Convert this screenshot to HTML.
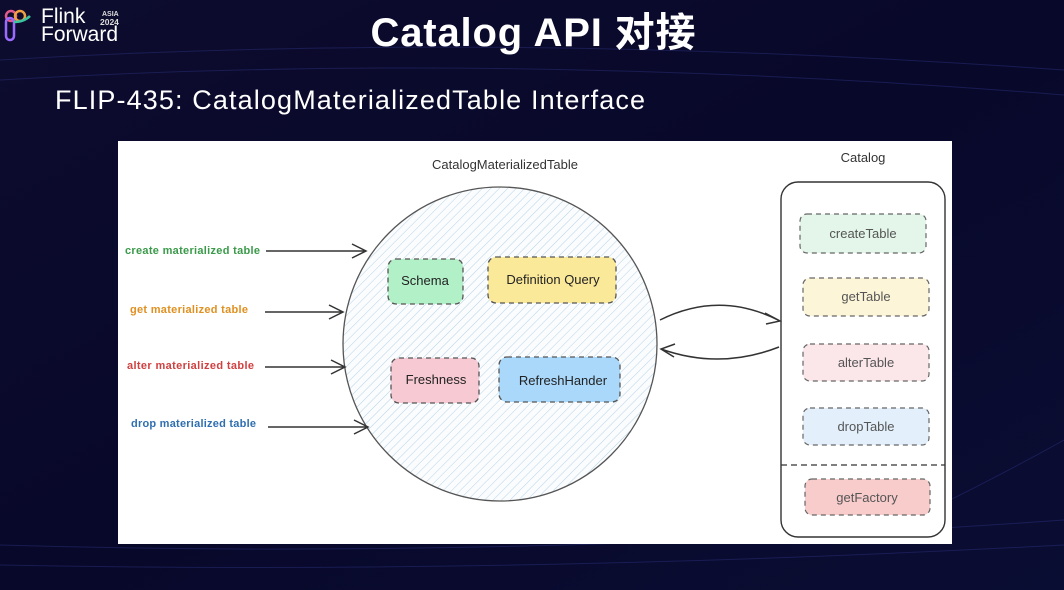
<!DOCTYPE html>
<html><head><meta charset="utf-8"><style>
html,body{margin:0;padding:0;width:1064px;height:590px;overflow:hidden;background:#0a0a26;}
</style></head><body>
<svg width="1064" height="590" viewBox="0 0 1064 590" xmlns="http://www.w3.org/2000/svg" font-family="'Liberation Sans','Noto Sans CJK SC',sans-serif">
<defs>
<linearGradient id="bg" x1="0" y1="0" x2="1" y2="1">
<stop offset="0" stop-color="#0d0c2e"/><stop offset="0.5" stop-color="#08082a"/><stop offset="1" stop-color="#0a0d33"/></linearGradient>
<pattern id="hatch" width="6" height="6" patternUnits="userSpaceOnUse" patternTransform="rotate(45)">
<rect width="6" height="6" fill="#fafcfe"/><line x1="0" y1="0" x2="0" y2="6" stroke="#b9d3e6" stroke-width="1"/></pattern>
</defs>
<rect width="1064" height="590" fill="url(#bg)"/>
<g stroke="#2a2f7a" stroke-width="1" fill="none" opacity="0.5">
<path d="M0 60 Q500 30 1064 70"/><path d="M0 80 Q500 50 1064 95"/><path d="M0 545 Q500 560 1064 520"/><path d="M0 565 Q500 575 1064 545"/><path d="M950 500 Q1010 470 1064 440"/>
</g>
<!-- logo -->
<g fill="none" stroke-width="2.5">
<circle cx="11" cy="16" r="5" stroke="#e25a8a"/><circle cx="20" cy="16" r="5" stroke="#f0a040"/>
<rect x="6" y="18" width="8" height="22" rx="4" stroke="#9b6bff"/><path d="M14 22 Q24 22 30 16" stroke="#3cc4a0"/>
</g>
<text x="41" y="23" fill="#fff" font-size="21">Flink</text>
<text x="41" y="41" fill="#fff" font-size="21">Forward</text>
<text x="102" y="16" fill="#ddd" font-size="7" font-weight="bold">ASIA</text>
<text x="100" y="25" fill="#ddd" font-size="8.5" font-weight="bold">2024</text>
<text x="533" y="46" fill="#fff" font-size="40" font-weight="bold" text-anchor="middle" textLength="325">Catalog API 对接</text>
<text x="55" y="109" fill="#fff" font-size="27" textLength="590">FLIP-435: CatalogMaterializedTable Interface</text>
<!-- panel -->
<rect x="118" y="141" width="834" height="403" fill="#fff"/>
<g font-family="'Liberation Sans',sans-serif">
<text x="505" y="169" font-size="13" fill="#333" text-anchor="middle">CatalogMaterializedTable</text>
<text x="863" y="162" font-size="13" fill="#333" text-anchor="middle">Catalog</text>
<circle cx="500" cy="344" r="157" fill="url(#hatch)" stroke="#555" stroke-width="1.3"/>
<g stroke="#555" stroke-dasharray="5,4" stroke-width="1.3">
<rect x="388" y="259" width="75" height="45" rx="8" fill="#b2f0c8"/>
<rect x="488" y="257" width="128" height="46" rx="8" fill="#fbe99a"/>
<rect x="391" y="358" width="88" height="45" rx="8" fill="#f6c9d3"/>
<rect x="499" y="357" width="121" height="45" rx="8" fill="#a9d8fb"/>
</g>
<g font-size="13" fill="#222" text-anchor="middle">
<text x="425" y="285">Schema</text><text x="553" y="284">Definition Query</text>
<text x="436" y="384">Freshness</text><text x="563" y="385">RefreshHander</text>
</g>
<g font-size="11" font-weight="bold">
<text x="125" y="254" fill="#3a9a4a" textLength="135">create materialized table</text>
<text x="130" y="313" fill="#e09020" textLength="118">get materialized table</text>
<text x="127" y="369" fill="#d04040" textLength="127">alter materialized table</text>
<text x="131" y="427" fill="#2f6fb0" textLength="125">drop materialized table</text>
</g>
<g stroke="#333" stroke-width="1.5" fill="none">
<path d="M266 251 L366 251 M352 244 L366 251 L352 258"/>
<path d="M265 312 L343 312 M329 305 L343 312 L329 319"/>
<path d="M265 367 L345 367 M331 360 L345 367 L331 374"/>
<path d="M268 427 L368 427 M354 420 L368 427 L354 434"/>
<path d="M660 320 Q720 290 780 321 M765 313 L780 321 L766 324"/>
<path d="M779 347 Q720 370 661 349 M675 344 L661 349 L674 357"/>
<rect x="781" y="182" width="164" height="355" rx="17" stroke-width="1.4"/>
<path d="M781 465 L945 465" stroke-dasharray="6,4" stroke-width="1.3"/>
</g>
<g stroke="#666" stroke-dasharray="5,4" stroke-width="1.2">
<rect x="800" y="214" width="126" height="39" rx="7" fill="#e4f6ea"/>
<rect x="803" y="278" width="126" height="38" rx="7" fill="#fcf5d8"/>
<rect x="803" y="344" width="126" height="37" rx="7" fill="#fbe6ea"/>
<rect x="803" y="408" width="126" height="37" rx="7" fill="#e3f0fb"/>
<rect x="805" y="479" width="125" height="36" rx="7" fill="#f9cccc"/>
</g>
<g font-size="13" fill="#555" text-anchor="middle">
<text x="863" y="238">createTable</text><text x="866" y="301">getTable</text>
<text x="866" y="367">alterTable</text><text x="866" y="431">dropTable</text>
<text x="867" y="502">getFactory</text>
</g>
</g>
</svg>
</body></html>
